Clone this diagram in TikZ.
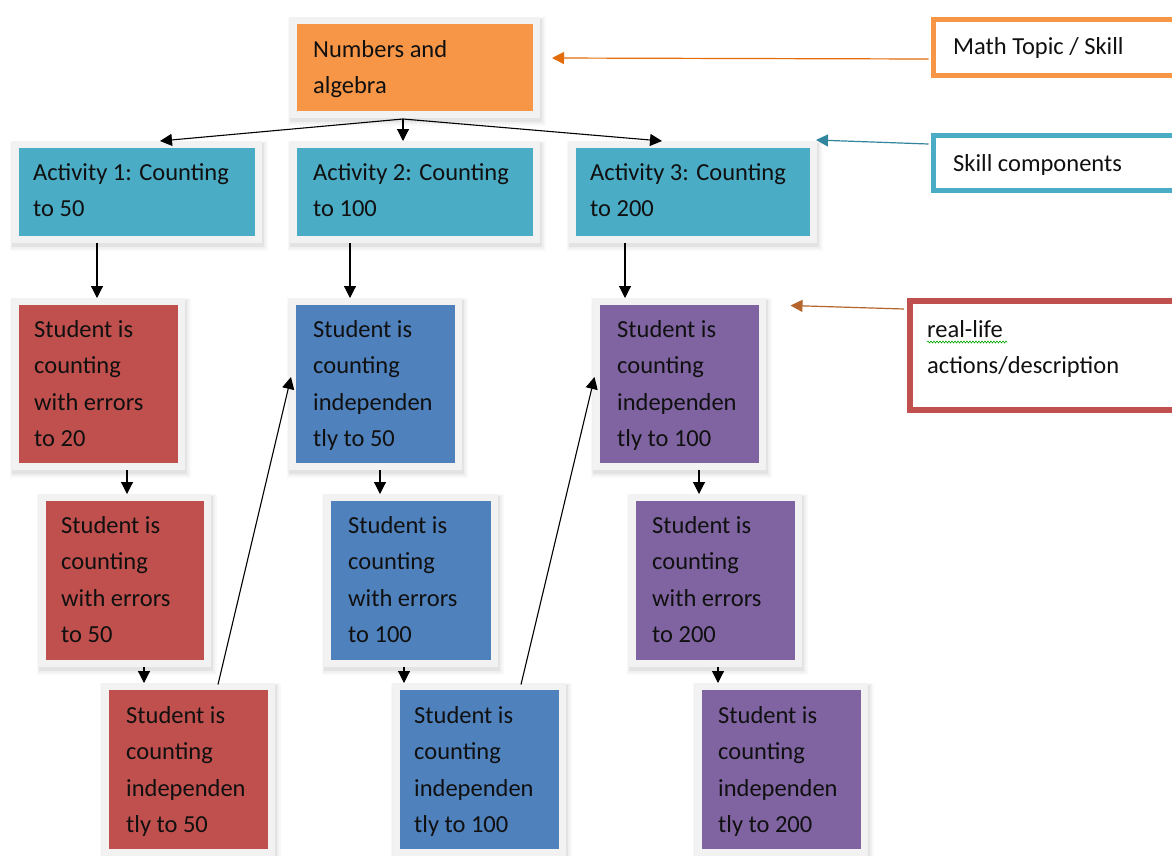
\documentclass[tikz,border=0pt]{standalone}
\usepackage{fontspec}
\setmainfont{Carlito}
\usetikzlibrary{arrows.meta,calc,decorations.pathmorphing}
\definecolor{cOr}{HTML}{F79646}
\definecolor{cTe}{HTML}{4BACC6}
\definecolor{cRe}{HTML}{C0504D}
\definecolor{cBl}{HTML}{4F81BD}
\definecolor{cPu}{HTML}{8064A2}
\definecolor{cFr}{HTML}{F2F2F2}
\definecolor{aOr}{HTML}{E46C0A}
\definecolor{aTe}{HTML}{31859C}
\definecolor{aBr}{HTML}{B5652B}
\definecolor{txt}{HTML}{101010}
\newcommand\mylines[1]{\vtop{\baselineskip=36.5pt\lineskiplimit=-100pt\halign{##\hfil\cr#1\crcr}}}
\begin{document}
\begin{tikzpicture}[x=1pt,y=-1pt,
  card/.style={draw=cFr, line width=7pt, inner sep=0pt,
    preaction={draw=black, line width=15pt, draw opacity=0.025, transform canvas={xshift=1.5pt,yshift=-4pt}},
    preaction={draw=black, line width=12pt, draw opacity=0.035, transform canvas={xshift=1.5pt,yshift=-3.5pt}},
    preaction={draw=black, line width=9pt, draw opacity=0.05, transform canvas={xshift=1pt,yshift=-3pt}}},
  legend/.style={fill=white, inner sep=0pt},
  txtn/.style={anchor=base west, inner sep=0pt, text=txt, font=\fontsize{24.5}{36.5}\selectfont},
  arr/.style={-{Triangle[length=12pt,width=12pt]}, line width=1.1pt, black},
  larr/.style={-{Triangle[length=12pt,width=12pt]}, line width=1.2pt}]
\fill[white] (0,0) rectangle (1172,855);
\useasboundingbox (0,0) rectangle (1172,855);

% legend boxes
\node[legend, draw=cOr, line width=5pt, minimum width=256.5pt, minimum height=56pt] (L1) at (1061.75,47.5) {};
\node[legend, draw=cTe, line width=5pt, minimum width=256.5pt, minimum height=55pt] (L2) at (1061.75,163) {};
\node[legend, draw=cRe, line width=6pt, minimum width=280pt, minimum height=109pt] (L3) at (1050,355.5) {};
\node[txtn] (L1t) at (953,54) {\mylines{Math Topic / Skill}};
\node[txtn] (L2t) at (953,171) {\mylines{Skill components}};
\node[txtn] (L3t) at (927,337) {\mylines{real-life\cr actions/description}};
\draw[green!65!black, line width=0.6pt, decorate, decoration={snake, amplitude=1pt, segment length=3pt}]
  ($(L3t.base west)+(0,5)$) -- ($(L3t.base west)+(80,5)$);

% main boxes
\node[card, fill=cOr, minimum width=243pt, minimum height=94pt] (O) at (415,67.5) {};
\node[card, fill=cTe, minimum width=243pt, minimum height=95pt] (A1) at (137,192) {};
\node[card, fill=cTe, minimum width=243pt, minimum height=95pt] (A2) at (415,192) {};
\node[card, fill=cTe, minimum width=241pt, minimum height=95pt] (A3) at (693,192) {};
\node[card, fill=cRe, minimum width=166pt, minimum height=165pt] (R1) at (98.5,384) {};
\node[card, fill=cRe, minimum width=165pt, minimum height=166pt] (R2) at (125,580.5) {};
\node[card, fill=cRe, minimum width=166pt, minimum height=166pt] (R3) at (188.5,769.5) {};
\node[card, fill=cBl, minimum width=166pt, minimum height=165pt] (B1) at (375.5,384) {};
\node[card, fill=cBl, minimum width=167pt, minimum height=166pt] (B2) at (411,580.5) {};
\node[card, fill=cBl, minimum width=166pt, minimum height=166pt] (B3) at (479.5,769.5) {};
\node[card, fill=cPu, minimum width=166pt, minimum height=165pt] (P1) at (679.5,384) {};
\node[card, fill=cPu, minimum width=166pt, minimum height=166pt] (P2) at (715.5,580.5) {};
\node[card, fill=cPu, minimum width=166pt, minimum height=166pt] (P3) at (781.5,769.5) {};

% texts
\node[txtn] (Ot) at (313,57) {\mylines{Numbers and\cr algebra}};
\node[txtn] (A1t) at (33,180) {\mylines{Activity 1: Counting\cr to 50}};
\node[txtn] (A2t) at (313,180) {\mylines{Activity 2: Counting\cr to 100}};
\node[txtn] (A3t) at (590,180) {\mylines{Activity 3: Counting\cr to 200}};
\node[txtn] (R1t) at (34,337) {\mylines{Student is\cr counting\cr with errors\cr to 20}};
\node[txtn] (R2t) at (61,533) {\mylines{Student is\cr counting\cr with errors\cr to 50}};
\node[txtn] (R3t) at (126,723) {\mylines{Student is\cr counting\cr independen\cr tly to 50}};
\node[txtn] (B1t) at (313,337) {\mylines{Student is\cr counting\cr independen\cr tly to 50}};
\node[txtn] (B2t) at (348,533) {\mylines{Student is\cr counting\cr with errors\cr to 100}};
\node[txtn] (B3t) at (414,723) {\mylines{Student is\cr counting\cr independen\cr tly to 100}};
\node[txtn] (P1t) at (617,337) {\mylines{Student is\cr counting\cr independen\cr tly to 100}};
\node[txtn] (P2t) at (652,533) {\mylines{Student is\cr counting\cr with errors\cr to 200}};
\node[txtn] (P3t) at (718,723) {\mylines{Student is\cr counting\cr independen\cr tly to 200}};

% tree arrows
\coordinate (split) at ($(O.south)+(-12,1)$);
\draw[arr] (split) -- ($(A1.north)+(23,0)$);
\draw[arr] (split) -- ($(A2.north)+(-12,0)$);
\draw[arr] (split) -- ($(A3.north)+(-31,0)$);

\draw[arr] ($(A1.south)+(-40,0)$) -- ($(R1.north)+(-1.5,0)$);
\draw[arr] ($(A2.south)+(-65,0)$) -- ($(B1.north)+(-25.5,0)$);
\draw[arr] ($(A3.south)+(-68,0)$) -- ($(P1.north)+(-54.5,0)$);

\draw[arr] ($(R1.south)+(28.5,0)$) -- ($(R2.north)+(2,0)$);
\draw[arr] ($(R2.south)+(19,0)$) -- ($(R3.north)+(-44.5,0)$);
\draw[arr] ($(B1.south)+(4.5,0)$) -- ($(B2.north)+(-31,0)$);
\draw[arr] ($(B2.south)+(-7,0)$) -- ($(B3.north)+(-75.5,0)$);
\draw[arr] ($(P1.south)+(19.5,0)$) -- ($(P2.north)+(-16.5,0)$);
\draw[arr] ($(P2.south)+(2.5,0)$) -- ($(P3.north)+(-63.5,0)$);

\draw[arr] ($(R3.north)+(29.5,1.5)$) -- ($(B1.west)+(2,-7)$);
\draw[arr] ($(B3.north)+(41.5,1.5)$) -- ($(P1.west)+(1.5,-7)$);

% legend arrows
\draw[larr, aOr] ($(L1.west)+(-2.5,11.5)$) -- ($(O.east)+(12,-9.5)$);
\draw[larr, aTe] ($(L2.west)+(-2.5,-19)$) -- ($(A3.north east)+(-1,-1)$);
\draw[larr, aBr] ($(L3.west)+(-3,-46.5)$) -- ($(P1.north east)+(24.5,7.5)$);
\end{tikzpicture}
\end{document}
